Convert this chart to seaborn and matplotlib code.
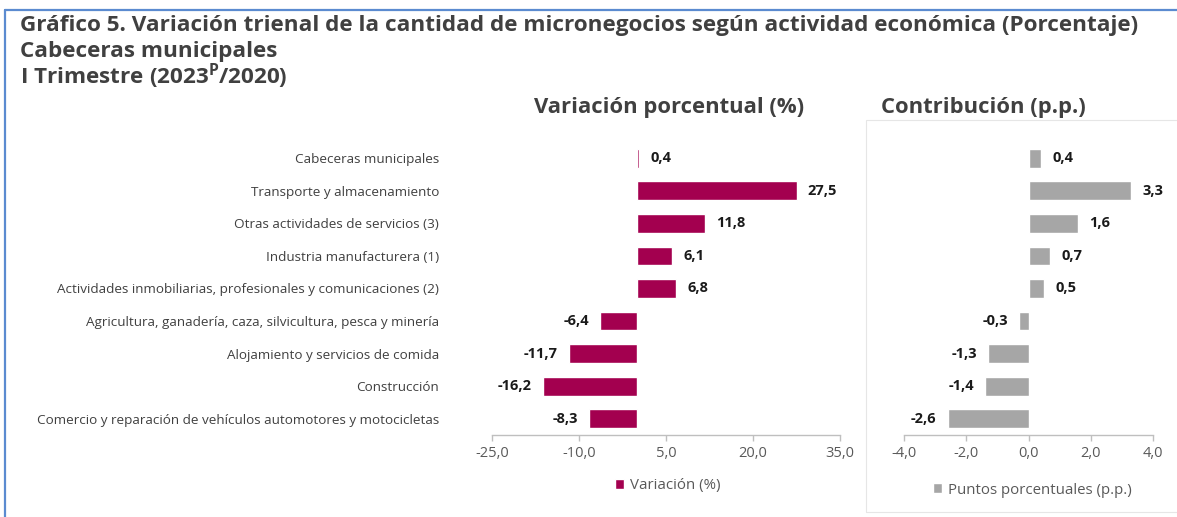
import matplotlib
matplotlib.use('Agg')
import matplotlib.pyplot as plt
import seaborn as sns
import pandas as pd
from matplotlib.patches import Rectangle, Patch
from matplotlib.lines import Line2D

categories = [
    "Cabeceras municipales",
    "Transporte y almacenamiento",
    "Otras actividades de servicios (3)",
    "Industria manufacturera (1)",
    "Actividades inmobiliarias, profesionales y comunicaciones (2)",
    "Agricultura, ganadería, caza, silvicultura, pesca y minería",
    "Alojamiento y servicios de comida",
    "Construcción",
    "Comercio y reparación de vehículos automotores y motocicletas",
]
variacion = [0.4, 27.5, 11.8, 6.1, 6.8, -6.4, -11.7, -16.2, -8.3]
contribucion = [0.4, 3.3, 1.6, 0.7, 0.5, -0.3, -1.3, -1.4, -2.6]
left_ticks = [-25, -10, 5, 20, 35]
right_ticks = [-4, -2, 0, 2, 4]

sns.set_theme(style='white')
plt.rcParams['font.family'] = ['Open Sans', 'DejaVu Sans']
plt.rcParams['mathtext.fontset'] = 'custom'
plt.rcParams['mathtext.rm'] = 'Open Sans'
plt.rcParams['mathtext.bf'] = 'Open Sans:bold'

W, H = 1177, 517
fig = plt.figure(figsize=(W / 100, H / 100), dpi=100)
fig.patch.set_facecolor('white')

CRIMSON = '#A3004F'
GREY = '#A6A6A6'
TXT = '#404040'
TICK = '#595959'

df = pd.DataFrame({'cat': categories, 'var': variacion, 'con': contribucion})

ax1 = fig.add_axes([492 / W, 1 - 435 / H, 348 / W, 293 / H])
ax2 = fig.add_axes([904 / W, 1 - 435 / H, 249 / W, 293 / H])

sns.barplot(data=df, y='cat', x='var', ax=ax1, color=CRIMSON, width=0.58,
            saturation=1, orient='h')
sns.barplot(data=df, y='cat', x='con', ax=ax2, color=GREY, width=0.58,
            saturation=1, orient='h')


def fmt(v):
    return f"{v:.1f}".replace('.', ',')


for ax, vals, ticks, lim in [(ax1, variacion, left_ticks, (-25, 35)),
                             (ax2, contribucion, right_ticks, (-4, 4))]:
    ax.set_xlim(*lim)
    ax.set_xticks(ticks)
    ax.set_xticklabels([fmt(t) for t in ticks])
    ax.set_xlabel('')
    ax.set_ylabel('')
    for s in ['left', 'top', 'right']:
        ax.spines[s].set_visible(False)
    ax.spines['bottom'].set_color('#BFBFBF')
    ax.spines['bottom'].set_linewidth(1.0)
    ax.tick_params(axis='x', bottom=True, length=4, width=1, color='#BFBFBF',
                   labelsize=10.5, labelcolor=TICK, pad=4)
    ax.grid(False)
    for i, v in enumerate(vals):
        off = 8 if v >= 0 else -8
        ax.annotate(fmt(v), xy=(v, i), xytext=(off, 0), textcoords='offset points',
                    ha='left' if v >= 0 else 'right', va='center',
                    fontsize=10.5, fontweight='bold', color='#1A1A1A')

ax1.tick_params(axis='y', left=False, labelsize=9.7, labelcolor=TXT, pad=32)
ax2.tick_params(axis='y', left=False, labelleft=False)

# Titles
fig.text(20 / W, 1 - 25 / H,
         "Gráfico 5. Variación trienal de la cantidad de micronegocios según actividad económica (Porcentaje)",
         fontsize=16.2, fontweight='bold', color=TXT, ha='left', va='center')
fig.text(20 / W, 1 - 51 / H, "Cabeceras municipales",
         fontsize=16.2, fontweight='bold', color=TXT, ha='left', va='center')
fig.text(20 / W, 1 - 76 / H, r"I Trimestre (2023$^{\mathbf{P}}$/2020)",
         fontsize=16.2, fontweight='bold', color=TXT, ha='left', va='center')

fig.text(669 / W, 1 - 107 / H, "Variación porcentual (%)",
         fontsize=15.8, fontweight='bold', color=TXT, ha='center', va='center')
fig.text(983 / W, 1 - 107 / H, "Contribución (p.p.)",
         fontsize=15.8, fontweight='bold', color=TXT, ha='center', va='center')

# Legends
fig.legend(handles=[Patch(facecolor=CRIMSON, label='Variación (%)')],
           loc='center', bbox_to_anchor=(668 / W, 1 - 486 / H), frameon=False,
           fontsize=10.8, labelcolor=TICK, handlelength=0.6, handleheight=0.6,
           handletextpad=0.4)
fig.legend(handles=[Patch(facecolor=GREY, label='Puntos porcentuales (p.p.)')],
           loc='center', bbox_to_anchor=(1032 / W, 1 - 490 / H), frameon=False,
           fontsize=10.8, labelcolor=TICK, handlelength=0.6, handleheight=0.6,
           handletextpad=0.4)

# Frame decorations
fig.add_artist(Rectangle((866 / W, 1 - 512 / H), (1180 - 866) / W, (512 - 120) / H,
                         transform=fig.transFigure, fill=False,
                         edgecolor='#E6E6E6', linewidth=0.8))
fig.add_artist(Line2D([5 / W, 5 / W], [0, 1 - 10 / H], transform=fig.transFigure,
                      color='#5B8BD0', linewidth=1.6))
fig.add_artist(Line2D([5 / W, 1], [1 - 10 / H, 1 - 10 / H], transform=fig.transFigure,
                      color='#5B8BD0', linewidth=1.6))

fig.savefig('out.png', dpi=100, facecolor='white')
